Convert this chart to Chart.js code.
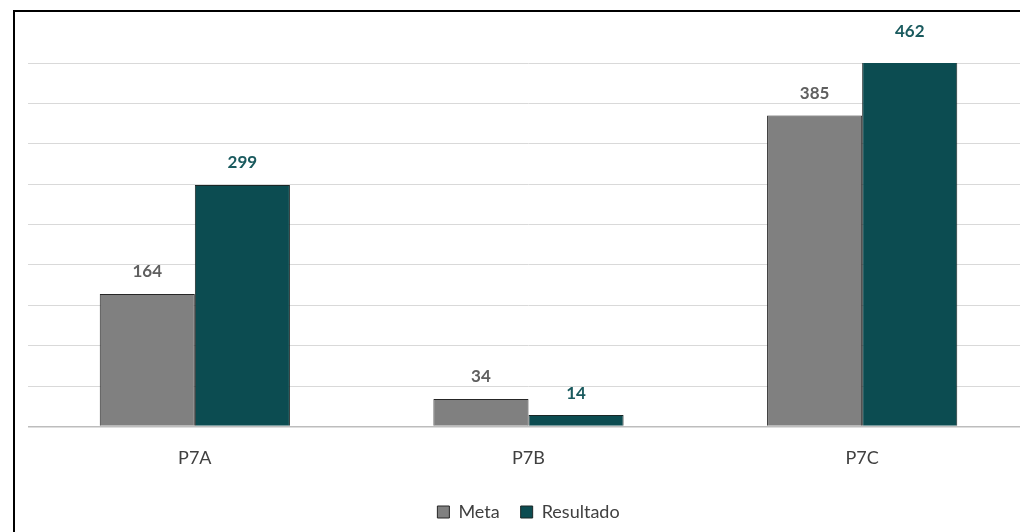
<!DOCTYPE html>
<html>
<head>
<meta charset="utf-8">
<script src="https://cdn.jsdelivr.net/npm/chart.js@4/dist/chart.umd.min.js"></script>
<style>
  html, body { margin: 0; padding: 0; width: 1020px; height: 532px; overflow: hidden; background: #fff; }
  #frame { position: absolute; left: 13px; top: 10px; width: 1100px; height: 600px; border-left: 2px solid #000; border-top: 2px solid #000; }
  #wrap { position: absolute; left: 0; top: 0; width: 1029px; height: 535px; }
</style>
</head>
<body>
<div id="frame"></div>
<div id="wrap"><canvas id="c"></canvas></div>
<script>
const categories = ['P7A', 'P7B', 'P7C'];
const metaValues = [164, 34, 385];
const resultadoValues = [299, 14, 462];
const seriesNames = ['Meta', 'Resultado'];

const labelColors = ['#5f5f5f', '#1a5a5e'];

const valueLabels = {
  id: 'valueLabels',
  afterDatasetsDraw(chart) {
    const ctx = chart.ctx;
    ctx.save();
    ctx.font = 'bold 17px Lato';
    ctx.textAlign = 'center';
    ctx.textBaseline = 'middle';
    chart.data.datasets.forEach((ds, i) => {
      const meta = chart.getDatasetMeta(i);
      meta.data.forEach((bar, j) => {
        ctx.fillStyle = labelColors[i];
        ctx.fillText(String(ds.data[j]), bar.x, bar.y - 22);
      });
    });
    ctx.restore();
  }
};

new Chart(document.getElementById('c'), {
  type: 'bar',
  data: {
    labels: categories,
    datasets: [
      { label: seriesNames[0], data: metaValues, backgroundColor: '#808080', borderColor: '#262626', borderWidth: 1 },
      { label: seriesNames[1], data: resultadoValues, backgroundColor: '#0c4c51', borderColor: '#1a2626', borderWidth: 1 }
    ]
  },
  options: {
    responsive: true,
    maintainAspectRatio: false,
    animation: false,
    layout: { padding: { left: 28, right: 0, top: 63, bottom: 4 } },
    datasets: { bar: { barPercentage: 1, categoryPercentage: 0.57 } },
    scales: {
      x: {
        grid: { display: false },
        border: { display: false },
        ticks: { font: { family: 'Lato', size: 18 }, color: '#404040', padding: 13 }
      },
      y: {
        min: 0, max: 450,
        ticks: { display: false, stepSize: 50 },
        border: { display: false },
        grid: {
          drawTicks: false,
          color: ctx => ctx.tick && ctx.tick.value === 0 ? '#bdbdbd' : '#d9d9d9',
          lineWidth: ctx => ctx.tick && ctx.tick.value === 0 ? 1.5 : 1
        }
      }
    },
    plugins: {
      tooltip: { enabled: false },
      legend: {
        position: 'bottom',
        labels: {
          font: { family: 'Lato', size: 18 },
          color: '#404040',
          boxWidth: 12, boxHeight: 12,
          padding: 21
        }
      }
    }
  },
  plugins: [valueLabels]
});
</script>
</body>
</html>
